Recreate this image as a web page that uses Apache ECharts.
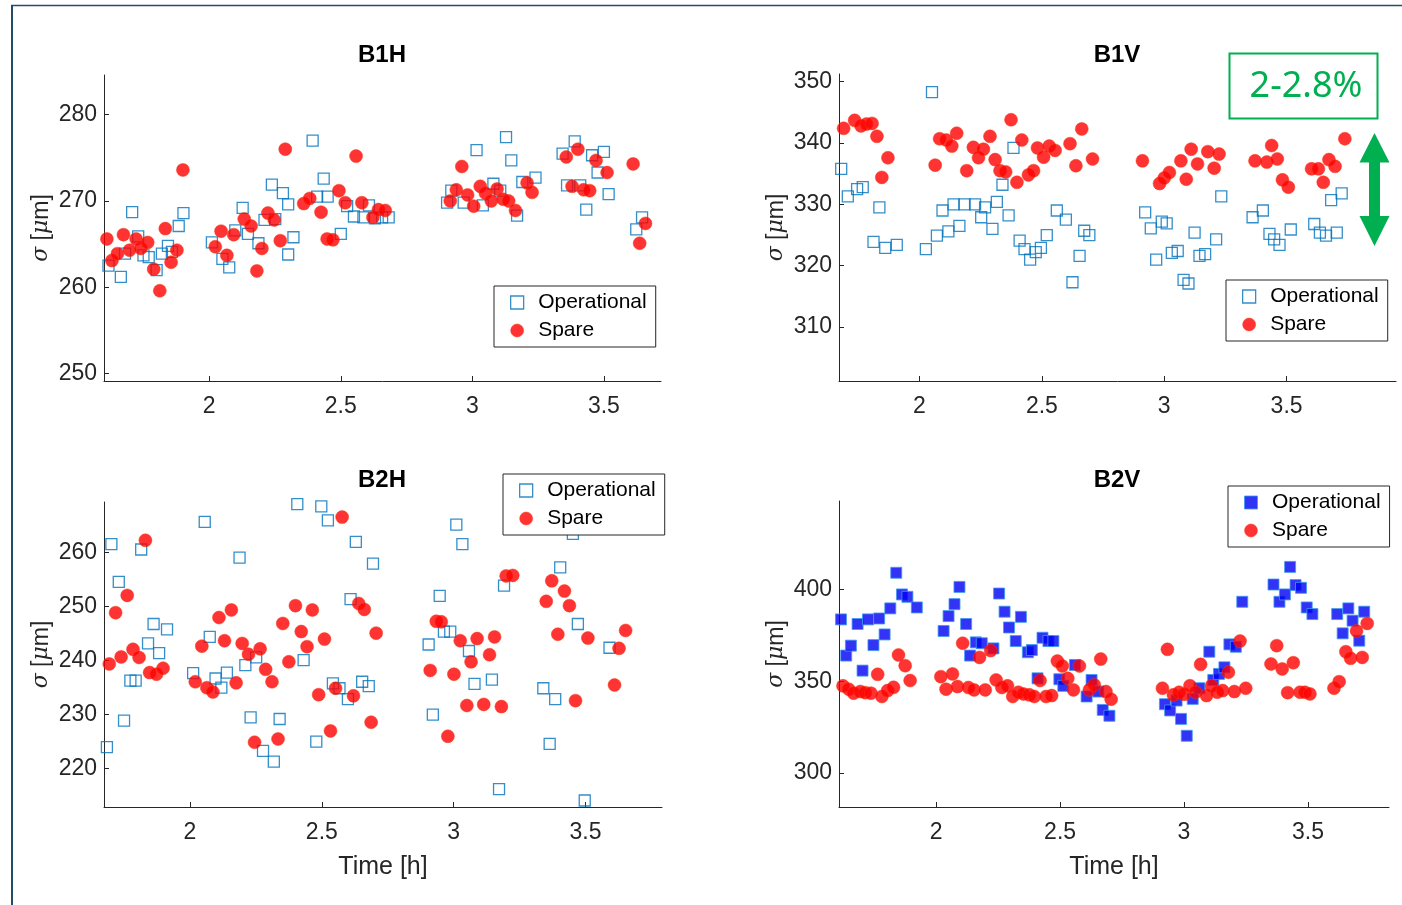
<!DOCTYPE html>
<html>
<head>
<meta charset="utf-8">
<title>Beam size: operational vs spare</title>
<script src="https://cdn.jsdelivr.net/npm/echarts@6/dist/echarts.min.js"></script>
<style>
  html, body { margin: 0; padding: 0; background: #fff; }
  #chart { width: 1402px; height: 905px; }
</style>
</head>
<body>
<div id="chart"></div>
<script>
// Tick values shared by the panels
const timeTicks = [2, 2.5, 3, 3.5];
const b1hTicks = [250, 260, 270, 280];
const b1vTicks = [310, 320, 330, 340, 350];
const b2hTicks = [220, 230, 240, 250, 260];
const b2vTicks = [300, 350, 400];

const panelTitles = ['B1H', 'B1V', 'B2H', 'B2V'];
const seriesNames = ['Operational', 'Spare'];

// [time (h), sigma (um)]
const b1hOperational = [
  [1.617,262.5],[1.664,261.2],[1.68,263.9],[1.707,268.7],[1.73,265.9],[1.75,263.7],[1.77,263.5],
  [1.80,262.0],[1.82,263.9],[1.843,264.8],[1.858,264.1],[1.884,267.1],[1.902,268.6],
  [2.01,265.2],[2.05,263.3],[2.076,262.3],[2.099,266.6],[2.127,269.2],[2.147,266.2],[2.187,265.1],
  [2.21,267.8],[2.238,271.9],[2.251,267.9],[2.28,270.9],[2.30,269.6],[2.30,263.8],[2.32,265.8],
  [2.393,277.0],[2.41,270.5],[2.435,272.6],[2.45,270.5],[2.50,266.2],[2.524,269.4],[2.55,268.2],
  [2.586,268.1],[2.607,269.5],[2.63,268.0],[2.657,268.1],[2.682,268.1],
  [2.904,269.8],[2.92,271.2],[2.967,269.8],[3.016,275.9],[3.04,269.5],[3.08,272.0],[3.106,271.2],
  [3.128,277.4],[3.148,274.7],[3.17,268.3],[3.19,272.2],[3.24,272.7],[3.343,275.5],[3.36,271.8],
  [3.389,276.9],[3.41,271.8],[3.433,269.0],[3.455,275.3],[3.476,273.3],[3.50,275.7],[3.518,270.8],
  [3.623,266.7],[3.645,268.1]
];
const b1hSpare = [
  [1.611,265.6],[1.63,263.1],[1.651,263.9],[1.674,266.1],[1.697,264.3],[1.722,265.6],[1.74,264.5],
  [1.766,265.2],[1.789,262.1],[1.812,259.6],[1.833,266.8],[1.855,262.9],[1.877,264.3],[1.90,273.6],
  [2.023,264.7],[2.045,266.5],[2.067,263.7],[2.093,266.1],[2.133,267.9],[2.159,267.1],[2.181,261.9],
  [2.20,264.5],[2.223,268.6],[2.247,267.8],[2.27,265.4],[2.289,276.0],[2.359,269.7],[2.382,270.3],
  [2.425,268.7],[2.448,265.6],[2.47,265.5],[2.493,271.2],[2.517,269.8],[2.558,275.2],[2.58,269.8],
  [2.622,268.1],[2.643,269.0],[2.669,268.9],
  [2.916,270.0],[2.939,271.3],[2.96,274.0],[2.982,270.7],[3.005,269.4],[3.03,271.7],[3.05,270.9],
  [3.072,270.0],[3.094,271.4],[3.117,270.2],[3.138,270.0],[3.164,268.9],[3.208,272.1],[3.227,271.0],
  [3.357,275.1],[3.379,271.7],[3.401,276.0],[3.423,271.3],[3.446,271.2],[3.47,274.7],[3.512,273.3],
  [3.611,274.3],[3.636,265.1],[3.658,267.4]
];

const b1vOperational = [
  [1.68,335.8],[1.707,331.3],[1.745,332.5],[1.768,332.8],[1.812,323.9],[1.836,329.5],[1.86,322.9],
  [1.907,323.4],[2.026,322.7],[2.051,348.3],[2.071,324.9],[2.094,329.0],[2.118,325.6],[2.139,330.0],
  [2.163,326.5],[2.184,330.0],[2.227,330.0],[2.252,327.9],[2.268,329.5],[2.298,326.0],[2.316,330.4],
  [2.339,333.2],[2.364,328.2],[2.384,339.2],[2.409,324.1],[2.429,322.7],[2.452,321.0],[2.475,322.2],
  [2.496,322.9],[2.52,325.0],[2.561,329.0],[2.598,327.5],[2.625,317.3],[2.654,321.6],[2.673,325.7],
  [2.694,325.0],
  [2.922,328.7],[2.945,326.1],[2.967,321.0],[2.99,327.2],[3.01,326.9],[3.031,322.1],[3.055,322.4],
  [3.079,317.7],[3.099,317.1],[3.124,325.4],[3.144,321.6],[3.167,321.9],[3.212,324.3],[3.233,331.3],
  [3.361,327.9],[3.403,329.0],[3.43,325.2],[3.449,324.3],[3.471,323.4],[3.517,325.9],[3.613,326.8],
  [3.636,325.4],[3.661,324.9],[3.682,330.7],[3.705,325.4],[3.725,331.8]
];
const b1vSpare = [
  [1.669,340.2],[1.69,342.4],[1.735,343.7],[1.761,342.8],[1.783,343.1],[1.806,343.2],[1.826,341.1],
  [1.846,334.4],[1.871,337.6],
  [2.064,336.4],[2.082,340.7],[2.109,340.5],[2.132,339.5],[2.152,341.6],[2.193,335.5],[2.22,339.3],
  [2.241,337.6],[2.261,339.0],[2.288,341.1],[2.309,337.3],[2.329,335.5],[2.352,335.3],[2.374,343.8],
  [2.398,333.6],[2.418,340.5],[2.445,334.8],[2.466,335.5],[2.482,339.2],[2.507,337.7],[2.53,339.5],
  [2.554,338.8],[2.615,339.9],[2.639,336.3],[2.663,342.3],[2.707,337.4],
  [2.911,337.1],[2.981,333.4],[3.0,334.3],[3.021,335.2],[3.068,337.1],[3.09,334.1],[3.11,339.0],
  [3.136,336.6],[3.178,338.6],[3.204,335.9],[3.224,338.2],[3.371,337.1],[3.419,336.9],[3.439,339.6],
  [3.462,337.4],[3.483,334.0],[3.507,332.8],[3.602,335.8],[3.63,335.8],[3.65,333.6],[3.673,337.3],
  [3.698,336.2],[3.738,340.7]
];

const b2hOperational = [
  [1.685,224.0],[1.702,261.6],[1.73,254.6],[1.75,228.9],[1.774,236.3],[1.794,236.3],[1.815,260.6],
  [1.841,243.2],[1.862,246.8],[1.883,241.4],[1.913,245.8],[2.012,237.7],[2.056,265.7],[2.075,244.4],
  [2.097,236.7],[2.119,235.0],[2.14,237.8],[2.188,259.1],[2.21,239.2],[2.23,229.5],[2.251,240.6],
  [2.277,223.3],[2.318,221.3],[2.34,229.2],[2.407,269.0],[2.431,240.1],[2.479,225.0],[2.498,268.6],
  [2.523,266.0],[2.542,235.8],[2.567,234.9],[2.599,232.9],[2.609,251.4],[2.629,262.0],[2.653,236.1],
  [2.678,235.3],[2.694,258.0],
  [2.905,243.0],[2.921,230.0],[2.947,252.0],[2.963,245.4],[2.987,245.4],[3.01,265.2],[3.033,261.6],
  [3.058,241.8],[3.079,235.7],[3.145,236.5],[3.172,216.2],[3.191,253.9],[3.34,234.9],[3.364,224.6],
  [3.385,232.9],[3.404,257.3],[3.452,263.5],[3.471,246.8],[3.497,214.1],[3.591,242.4]
];
const b2hSpare = [
  [1.694,239.4],[1.718,248.9],[1.739,240.7],[1.762,252.1],[1.784,242.1],[1.807,240.6],[1.831,262.3],
  [1.847,237.8],[1.873,237.5],[1.898,238.6],[2.02,236.1],[2.045,242.7],[2.064,235.0],[2.087,234.2],
  [2.11,248.0],[2.131,243.7],[2.157,249.4],[2.175,235.9],[2.198,243.2],[2.222,241.2],[2.245,224.9],
  [2.266,242.2],[2.287,238.4],[2.311,236.1],[2.334,225.5],[2.352,246.9],[2.375,239.8],[2.40,250.2],
  [2.422,245.4],[2.444,242.6],[2.464,249.4],[2.488,233.7],[2.51,244.0],[2.533,227.0],[2.552,234.9],
  [2.577,266.6],[2.62,233.5],[2.64,250.6],[2.661,249.5],[2.687,228.6],[2.706,245.1],
  [2.911,238.2],[2.934,247.3],[2.953,247.2],[2.978,226.0],[3.001,237.5],[3.025,243.7],[3.05,231.7],
  [3.066,239.8],[3.089,244.1],[3.114,231.9],[3.136,241.1],[3.155,244.4],[3.181,231.5],[3.199,255.7],
  [3.224,255.8],[3.351,251.0],[3.372,254.8],[3.395,244.9],[3.42,252.9],[3.439,250.2],[3.462,232.6],
  [3.509,244.2],[3.61,235.5],[3.627,242.3],[3.652,245.6]
];

const b2vOperational = [
  [1.616,383.7],[1.637,364.0],[1.656,369.4],[1.683,381.2],[1.703,355.8],[1.725,383.7],[1.747,369.7],
  [1.77,384.2],[1.792,375.5],[1.815,389.7],[1.839,409.1],[1.862,397.3],[1.884,396.0],[1.922,390.2],
  [2.03,377.4],[2.05,385.5],[2.074,392.0],[2.094,401.4],[2.121,381.2],[2.137,364.0],[2.16,371.2],
  [2.184,370.7],[2.231,367.9],[2.254,397.8],[2.276,387.9],[2.294,379.3],[2.321,371.9],[2.342,385.1],
  [2.37,365.8],[2.386,367.0],[2.409,351.6],[2.429,373.7],[2.453,371.9],[2.473,371.9],[2.497,351.1],
  [2.513,347.5],[2.56,358.9],[2.607,341.7],[2.627,350.7],[2.654,344.4],[2.672,334.4],[2.699,331.2],
  [2.923,337.5],[2.944,334.1],[2.97,339.5],[2.988,329.5],[3.011,320.3],[3.035,340.4],[3.062,346.2],
  [3.102,366.1],[3.118,350.7],[3.141,354.0],[3.163,357.6],[3.183,370.1],[3.209,368.8],[3.235,393.3],
  [3.361,402.7],[3.385,393.3],[3.407,397.3],[3.428,412.3],[3.45,402.4],[3.472,400.9],[3.495,390.2],
  [3.518,386.6],[3.618,386.6],[3.64,376.1],[3.663,389.7],[3.68,383.0],[3.707,372.1],[3.727,387.9]
];
const b2vSpare = [
  [1.624,347.5],[1.647,345.7],[1.667,343.5],[1.694,344.4],[1.714,343.8],[1.737,343.5],[1.764,353.8],
  [1.781,341.7],[1.804,344.9],[1.828,346.7],[1.848,364.3],[1.875,358.5],[1.895,350.4],
  [2.019,352.5],[2.04,345.7],[2.066,354.0],[2.086,347.1],[2.107,370.7],[2.13,346.6],[2.153,345.3],
  [2.175,363.0],[2.198,345.3],[2.22,366.7],[2.242,350.7],[2.265,346.6],[2.288,347.5],[2.309,341.7],
  [2.332,344.0],[2.352,343.1],[2.376,342.6],[2.396,341.7],[2.419,350.4],[2.443,341.7],[2.466,342.2],
  [2.489,361.0],[2.509,358.3],[2.531,351.6],[2.554,345.3],[2.578,358.3],[2.618,345.3],[2.638,348.0],
  [2.664,362.1],[2.685,344.4],[2.706,340.2],
  [2.913,346.2],[2.933,367.4],[2.957,342.6],[2.98,344.0],[3.0,342.9],[3.024,347.6],[3.047,344.0],
  [3.067,359.2],[3.091,342.2],[3.111,347.5],[3.134,344.0],[3.156,344.9],[3.179,354.9],[3.203,344.4],
  [3.226,371.9],[3.249,346.2],[3.351,359.4],[3.374,369.4],[3.396,356.7],[3.418,343.8],[3.441,360.1],
  [3.468,344.0],[3.488,344.0],[3.508,343.1],[3.605,346.2],[3.626,349.8],[3.653,366.1],[3.672,362.5],
  [3.696,377.4],[3.719,363.0],[3.739,381.5]
];

// ---- styling ----
const AXIS_COLOR = '#262626';
const FONT = '"Liberation Sans", Arial, sans-serif';
const hollowSquare = { color: 'rgba(0,0,0,0)', borderColor: '#0072BD', borderWidth: 1.3 };
const solidSquare = { color: '#0000F2', borderColor: '#3C9CF0', borderWidth: 1 };
const redDot = { color: '#FF0000', borderColor: '#F03A12', borderWidth: 0.6 };
// square legend icon that keeps its aspect inside the wider icon box
const SQUARE_ICON = 'path://M0,0H10V10H0Z';

const panels = [
  { grid: { left: 104, top: 75, width: 557, height: 306 }, x: [1.600, 3.717], y: [249.14, 284.6],
    yTicks: b1hTicks, op: b1hOperational, sp: b1hSpare, opStyle: hollowSquare, timeName: false,
    legend: { left: 494, top: 286 }, titlePos: [382, 55] },
  { grid: { left: 839, top: 74, width: 557, height: 307 }, x: [1.671, 3.947], y: [301.2, 351.26],
    yTicks: b1vTicks, op: b1vOperational, sp: b1vSpare, opStyle: hollowSquare, timeName: false,
    legend: { left: 1226, top: 280 }, titlePos: [1117, 55] },
  { grid: { left: 104, top: 502, width: 558, height: 305 }, x: [1.674, 3.79], y: [212.9, 269.4],
    yTicks: b2hTicks, op: b2hOperational, sp: b2hSpare, opStyle: hollowSquare, timeName: true,
    legend: { left: 503, top: 474 }, titlePos: [382, 480.5] },
  { grid: { left: 839, top: 501, width: 550, height: 306 }, x: [1.608, 3.827], y: [281.5, 448.2],
    yTicks: b2vTicks, op: b2vOperational, sp: b2vSpare, opStyle: solidSquare, timeName: true,
    legend: { left: 1228, top: 486 }, titlePos: [1117, 480.5] }
];

const grid = [], xAxis = [], yAxis = [], series = [], legend = [], title = [];

panels.forEach((p, i) => {
  grid.push(Object.assign({ containLabel: false }, p.grid));

  title.push({
    text: panelTitles[i],
    left: p.titlePos[0],
    top: p.titlePos[1],
    textAlign: 'center',
    textVerticalAlign: 'middle',
    padding: 0,
    textStyle: { fontSize: 24, fontWeight: 'bold', color: '#000', fontFamily: FONT }
  });

  xAxis.push({
    type: 'value', gridIndex: i, min: p.x[0], max: p.x[1],
    axisLine: { show: true, onZero: false, lineStyle: { color: AXIS_COLOR, width: 1 } },
    axisTick: { show: true, inside: true, length: 5, customValues: timeTicks,
                lineStyle: { color: AXIS_COLOR, width: 1 } },
    axisLabel: { customValues: timeTicks, formatter: v => String(v), margin: 14,
                 fontSize: 23, color: AXIS_COLOR, fontFamily: FONT },
    splitLine: { show: false },
    name: p.timeName ? 'Time [h]' : '',
    nameLocation: 'middle', nameGap: 48,
    nameTextStyle: { fontSize: 25, color: AXIS_COLOR, fontFamily: FONT }
  });

  yAxis.push({
    type: 'value', gridIndex: i, min: p.y[0], max: p.y[1],
    axisLine: { show: true, onZero: false, lineStyle: { color: AXIS_COLOR, width: 1 } },
    axisTick: { show: true, inside: true, length: 5, customValues: p.yTicks,
                lineStyle: { color: AXIS_COLOR, width: 1 } },
    axisLabel: { customValues: p.yTicks, formatter: v => String(v), margin: 7,
                 fontSize: 23, color: AXIS_COLOR, fontFamily: FONT },
    splitLine: { show: false },
    name: '{g|σ} [{g|μ}m]',
    nameLocation: 'middle', nameRotate: 90, nameGap: 51,
    nameTextStyle: {
      fontSize: 23, color: AXIS_COLOR, fontFamily: FONT,
      rich: { g: { fontSize: 22, fontStyle: 'italic', color: AXIS_COLOR, fontFamily: '"DejaVu Serif", serif' } }
    }
  });

  series.push({
    type: 'scatter', name: seriesNames[0], xAxisIndex: i, yAxisIndex: i,
    data: p.op, symbol: 'rect', symbolSize: 11,
    itemStyle: p.opStyle, emphasis: { disabled: true }, z: 2
  });
  series.push({
    type: 'scatter', name: seriesNames[1], xAxisIndex: i, yAxisIndex: i,
    data: p.sp, symbol: 'circle', symbolSize: 13,
    itemStyle: redDot, emphasis: { disabled: true }, z: 3
  });

  legend.push({
    orient: 'vertical', left: p.legend.left, top: p.legend.top,
    padding: [6, 9, 6, 16], itemGap: 7, itemWidth: 32, itemHeight: 13,
    symbolKeepAspect: true,
    backgroundColor: '#fff', borderColor: AXIS_COLOR, borderWidth: 1,
    selectedMode: false, z: 10,
    textStyle: { fontSize: 21, color: '#000', fontFamily: FONT },
    data: [
      { name: seriesNames[0], icon: SQUARE_ICON, itemStyle: Object.assign({}, p.opStyle) },
      { name: seriesNames[1], icon: 'circle', itemStyle: Object.assign({}, redDot) }
    ]
  });
});

const GREEN = '#00B050';
const graphic = [
  // slide frame
  { type: 'line', z: 100, shape: { x1: 12, y1: 5, x2: 12, y2: 905 },
    style: { stroke: '#234d68', lineWidth: 2 } },
  { type: 'line', z: 100, shape: { x1: 11, y1: 5.5, x2: 1402, y2: 5.5 },
    style: { stroke: '#234d68', lineWidth: 1.5 } },
  // spread annotation
  { type: 'rect', z: 100, shape: { x: 1229.5, y: 53.5, width: 148, height: 65 },
    style: { fill: '#fff', stroke: GREEN, lineWidth: 2 } },
  { type: 'text', z: 101, x: 1306, y: 87,
    style: { text: '2-2.8%', fontSize: 36, fontFamily: '"Noto Sans", "Open Sans", sans-serif',
             fill: GREEN, align: 'center', verticalAlign: 'middle' } },
  { type: 'polygon', z: 100,
    shape: { points: [
      [1374.5, 133], [1389.5, 162.5], [1380, 162.5], [1380, 216], [1389.5, 216],
      [1374.5, 246], [1359.5, 216], [1369, 216], [1369, 162.5], [1359.5, 162.5]
    ] },
    style: { fill: GREEN } }
];

const chart = echarts.init(document.getElementById('chart'), null, { renderer: 'canvas' });
chart.setOption({
  animation: false,
  backgroundColor: '#fff',
  title, grid, xAxis, yAxis, series, legend, graphic,
  tooltip: { show: false }
});
</script>
</body>
</html>
